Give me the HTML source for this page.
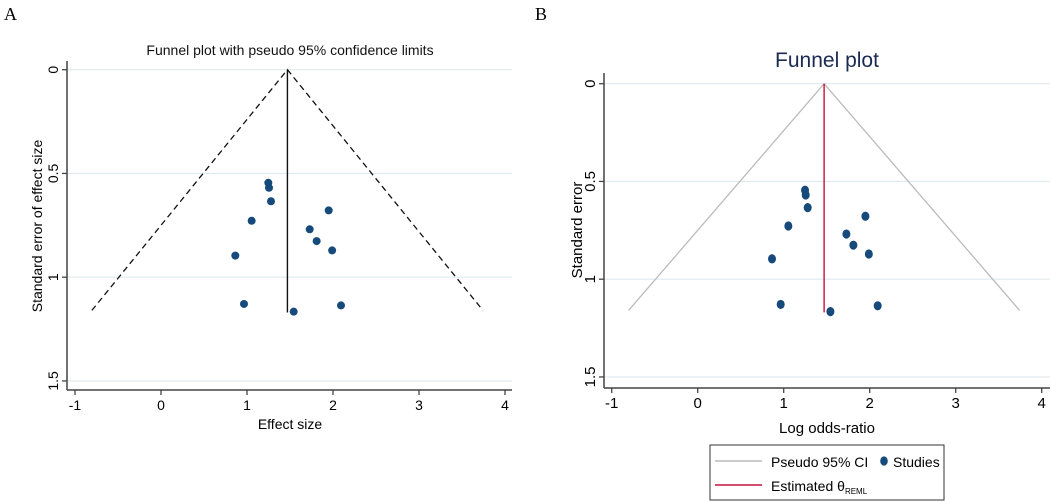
<!DOCTYPE html>
<html><head><meta charset="utf-8"><style>
html,body{margin:0;padding:0;background:#fff;}
svg{display:block;font-family:"Liberation Sans",Arial,sans-serif;}
</style></head><body>
<svg id="chart" width="1052" height="503" viewBox="0 0 1052 503">
<text x="4" y="20" font-family="Liberation Serif,serif" font-size="18">A</text>
<text x="535" y="20" font-family="Liberation Serif,serif" font-size="18">B</text>
<text x="290" y="55" font-size="14" text-anchor="middle" fill="#111">Funnel plot with pseudo 95% confidence limits</text>
<text x="827" y="67" font-size="21" text-anchor="middle" fill="#1a2a50">Funnel plot</text>
<g id="pa"></g>
<g id="pb"></g>
<text x="290" y="429" font-size="14" text-anchor="middle">Effect size</text>
<text x="827" y="433" font-size="15" text-anchor="middle">Log odds-ratio</text>
<text transform="translate(42,226) rotate(-90)" font-size="14" text-anchor="middle">Standard error of effect size</text>
<text transform="translate(582,230) rotate(-90)" font-size="15" text-anchor="middle">Standard error</text>
<g>
<rect x="710" y="445" width="234" height="55" fill="#fff" stroke="#333" stroke-width="1"/>
<line x1="715" y1="461" x2="762" y2="461" stroke="#bbb" stroke-width="1.5"/>
<text x="771" y="467" font-size="14">Pseudo 95% CI</text>
<ellipse cx="884" cy="461" rx="3.8" ry="4.6" fill="#164a7a"/>
<text x="893" y="467" font-size="14">Studies</text>
<line x1="715" y1="485" x2="762" y2="485" stroke="#c8103e" stroke-width="1.5"/>
<text x="771" y="491" font-size="14">Estimated θ<tspan font-size="8" dy="3">REML</tspan></text>
</g>
</svg>
<script>
const effects = [1.248,1.256,1.279,1.054,0.864,0.965,1.543,1.95,1.729,1.81,1.99,2.093];
const stderrs = [0.545,0.569,0.634,0.728,0.896,1.129,1.166,0.678,0.769,0.826,0.871,1.136];
const xTicks = [-1,0,1,2,3,4];
const xTickLabels = ["-1","0","1","2","3","4"];
const yTicks = [0,0.5,1,1.5];
const yTickLabels = ["0","0.5","1","1.5"];
const theta = [1.47];
const maxSE = [1.16];
const NS='http://www.w3.org/2000/svg';
function mk(parent,tag,attrs){const e=document.createElementNS(NS,tag);for(const k in attrs)e.setAttribute(k,attrs[k]);parent.appendChild(e);return e;}
function panel(g,cfg){
  const sx=v=>cfg.x0+v*cfg.xu, sy=v=>cfg.y0+v*cfg.yu;
  yTicks.forEach((t,i)=>{
    const gl=mk(g,'line',{x1:cfg.ax,x2:cfg.right,y1:sy(t),y2:sy(t),stroke:'#e0eaee','stroke-width':1.2});
    
    
    mk(g,'line',{x1:cfg.ax-5,x2:cfg.ax,y1:sy(t),y2:sy(t),stroke:'#444','stroke-width':1.3});
    const tx=mk(g,'text',{transform:`translate(${cfg.ax-9},${sy(t)}) rotate(-90)`,'font-size':cfg.fs,'text-anchor':'middle'});
    tx.textContent=yTickLabels[i];
    
    
  });
  xTicks.forEach((t,i)=>{
    mk(g,'line',{x1:sx(t),x2:sx(t),y1:cfg.axy,y2:cfg.axy+5,stroke:'#444','stroke-width':1.3});
    const tx=mk(g,'text',{x:sx(t),y:cfg.axy+20,'font-size':cfg.fs,'text-anchor':'middle'});
    tx.textContent=xTickLabels[i];
    
    
  });
  mk(g,'line',{x1:cfg.ax,x2:cfg.ax,y1:cfg.top,y2:cfg.axy,stroke:'#444','stroke-width':1.5});
  mk(g,'line',{x1:cfg.ax,x2:cfg.right,y1:cfg.axy,y2:cfg.axy,stroke:'#444','stroke-width':1.5});
  const th=theta[0], m=maxSE[0];
  const f=mk(g,'polyline',{points:`${sx(th-1.96*m)},${sy(m)} ${sx(th)},${sy(0)} ${sx(th+1.96*m)},${sy(m)}`,fill:'none',stroke:cfg.fc,'stroke-width':1.3,'stroke-dasharray':cfg.dash});
  
  
  const v=mk(g,'line',{x1:sx(th),x2:sx(th),y1:sy(0),y2:sy(m+0.01),stroke:cfg.vc,'stroke-width':1.4});
  
  
  effects.forEach((e,i)=>{
    const c=mk(g,'ellipse',{cx:sx(e),cy:sy(stderrs[i]),rx:4,ry:cfg.ry,fill:'#164a7a'});
    
    
  });
}
panel(document.getElementById('pa'),{x0:161,xu:86,y0:69.7,yu:207.5,ax:67,right:512,axy:390,top:61,fs:14,fc:'#111',dash:'6,4',vc:'#111',ry:4});
panel(document.getElementById('pb'),{x0:697.7,xu:86,y0:83.7,yu:195.5,ax:604,right:1050,axy:388,top:73,fs:15,fc:'#bbb',dash:'none',vc:'#c8103e',ry:4.6});
</script>
</body></html>
